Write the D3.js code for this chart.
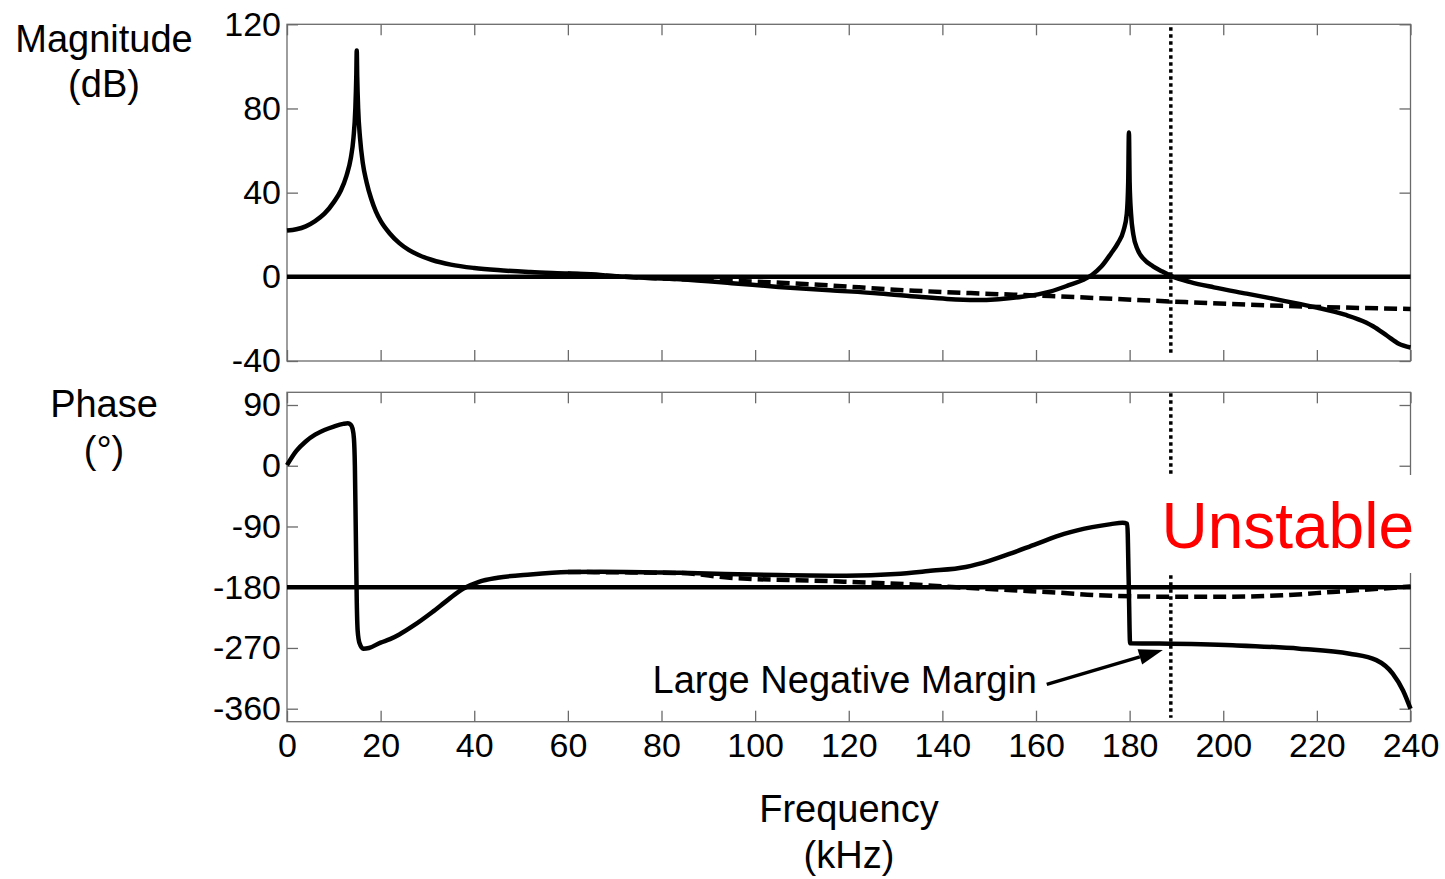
<!DOCTYPE html>
<html>
<head>
<meta charset="utf-8">
<script src="https://cdn.jsdelivr.net/npm/d3@7/dist/d3.min.js"></script>
<style>
body { margin: 0; background: #fff; }
svg text { font-family: "Liberation Sans", Arial, sans-serif; fill: #000; }
</style>
</head>
<body>
<div id="chart"></div>
<script>
// loop gain magnitude (solid) and the reference (dashed), kHz / dB
const magFreq = [0, 2, 4, 6, 8, 10, 11.5, 12.7, 13.6, 14.2, 14.6, 14.8, 14.9, 15.0, 15.2, 15.6, 16.2, 17, 18, 19, 20, 22, 24, 26, 28, 31, 35, 40, 45, 52, 60, 67, 72, 84, 95, 105, 116, 126.6, 135, 141, 147, 152, 157, 163, 167, 170, 172, 174, 176, 177.5, 178.7, 179.4, 179.7, 179.85, 180.0, 180.3, 180.8, 181.7, 183, 185, 187, 189, 193, 198, 205, 212.7, 220, 226, 230.5, 232, 235, 237.5, 240]
const magDb = [22, 22.6, 24, 26.5, 30, 35.5, 41, 48, 56, 66, 80, 95, 107.5, 95, 80, 66, 54, 45, 37, 31, 26.6, 20.5, 16, 12.8, 10.5, 8, 5.8, 4.2, 3.2, 2.3, 1.6, 0.9, 0, -1.2, -3, -4.8, -6.4, -7.9, -9.5, -10.5, -11, -10.6, -9.5, -7, -4, -1.5, 1, 5, 11, 16, 22, 30, 45, 68.6, 45, 30, 20, 13, 8.5, 5, 2.5, 0.3, -2.5, -5, -8, -11.3, -14.6, -18, -21.7, -23.5, -28, -31.8, -33.6]
const magRefFreq = [60, 72, 84, 95, 112, 134, 148, 163, 188.5, 212.7, 240]
const magRefDb = [1.6, 0, -1.1, -1.8, -3.6, -6.6, -7.9, -9.1, -11.7, -13.8, -15.3]

// phase, kHz / degrees
const phaseFreq = [0, 2, 4, 6, 8, 10, 12, 13, 13.6, 14, 14.3, 14.5, 14.7, 14.9, 15.1, 15.5, 16.3, 17.5, 20, 22, 24, 27, 31, 34.5, 37.7, 41, 45, 52, 60, 67, 84, 105, 119.5, 130, 137, 145, 150, 155, 160, 166, 172, 176, 178.5, 179.5, 179.8, 180.1, 186.3, 202, 216.3, 227, 232.7, 236.2, 238.4, 240]
const phaseDeg = [1, 22, 36, 46, 53, 58, 62, 63, 61, 55, 40, 0, -100, -200, -245, -263, -271, -270, -262, -257, -250, -237, -217, -198, -182, -172, -166, -161, -157.5, -157, -158.7, -162, -163, -160.5, -156, -150, -141, -129, -116, -101, -91, -86.5, -84.5, -86, -170, -263, -263.5, -266, -271, -278.5, -288, -308, -333, -360]
const phaseRefFreq = [60, 84, 94.6, 116, 133.7, 140.8, 155, 165, 173.5, 187.8, 202, 212.7, 223.3, 240]
const phaseRefDeg = [-157.5, -159, -166, -171, -176, -179, -184.5, -188, -192, -194, -194, -192, -187, -179]

const freqTicks = [0, 20, 40, 60, 80, 100, 120, 140, 160, 180, 200, 220, 240]
const magTicks = [120, 80, 40, 0, -40]
const phaseTicks = [90, 0, -90, -180, -270, -360]
const crossFreq = 188.8

const width = 1445, height = 879
const svg = d3.select('#chart').append('svg')
    .attr('width', width)
    .attr('height', height)

const x = d3.scaleLinear().domain([0, 240]).range([287, 1410.5])
const yMag = d3.scaleLinear().domain([-40, 120]).range([361, 24.3])
const yPh = d3.scaleLinear().domain([-360, 90]).range([708.7, 405])
const phTop = 392.3, phBottom = 721.7

const frameColor = '#6a6a6a'

function drawFrame(top, bottom, yScale, yTicks, showX) {
    const g = svg.append('g')
    g.append('rect')
        .attr('x', x(0)).attr('y', top)
        .attr('width', x(240) - x(0)).attr('height', bottom - top)
        .attr('fill', 'none').attr('stroke', frameColor).attr('stroke-width', 1.3)

    const axes = [
        [d3.axisLeft(yScale).tickValues(yTicks).tickPadding(6), `translate(${x(0)},0)`, true],
        [d3.axisRight(yScale).tickValues(yTicks), `translate(${x(240)},0)`, false],
        [d3.axisTop(x).tickValues(freqTicks), `translate(0,${top})`, false],
        [d3.axisBottom(x).tickValues(freqTicks).tickPadding(11), `translate(0,${bottom})`, showX]
    ]
    axes.forEach(([ax, tr, labels]) => {
        const a = g.append('g')
            .attr('transform', tr)
            .call(ax.tickSizeInner(-11).tickSizeOuter(0).tickFormat(d => String(d)))
        a.select('.domain').remove()
        a.selectAll('line').attr('stroke', frameColor).attr('stroke-width', 1.3)
        a.selectAll('text')
            .style('font-size', '34px')
            .attr('fill', '#000')
        if (!labels) a.selectAll('text').remove()
    })
    return g
}

drawFrame(yMag(120), yMag(-40), yMag, magTicks, false)
drawFrame(phTop, phBottom, yPh, phaseTicks, true)

// stability boundary at the crossover frequency
svg.append('line')
    .attr('x1', x(crossFreq)).attr('x2', x(crossFreq))
    .attr('y1', yMag(120) + 3).attr('y2', yMag(-40) - 5)
    .attr('stroke', '#000').attr('stroke-width', 3.5).attr('stroke-dasharray', '3.5,3.5')
svg.append('line')
    .attr('x1', x(crossFreq)).attr('x2', x(crossFreq))
    .attr('y1', phTop + 1).attr('y2', phBottom - 4)
    .attr('stroke', '#000').attr('stroke-width', 3.5).attr('stroke-dasharray', '3.5,3.5')

// reference lines 0 dB and -180 deg
svg.append('line')
    .attr('x1', x(0)).attr('x2', x(240))
    .attr('y1', yMag(0)).attr('y2', yMag(0))
    .attr('stroke', '#000').attr('stroke-width', 4.5)
svg.append('line')
    .attr('x1', x(0)).attr('x2', x(240))
    .attr('y1', yPh(-180)).attr('y2', yPh(-180))
    .attr('stroke', '#000').attr('stroke-width', 4.5)

const lineMag = d3.line().x(d => x(d[0])).y(d => yMag(d[1])).curve(d3.curveMonotoneX)
const linePh = d3.line().x(d => x(d[0])).y(d => yPh(d[1])).curve(d3.curveMonotoneX)

svg.append('path')
    .attr('d', lineMag(d3.zip(magRefFreq, magRefDb)))
    .attr('fill', 'none').attr('stroke', '#000').attr('stroke-width', 4.5)
    .attr('stroke-dasharray', '13,6')
svg.append('path')
    .attr('d', lineMag(d3.zip(magFreq, magDb)))
    .attr('fill', 'none').attr('stroke', '#000').attr('stroke-width', 4.5)
    .attr('stroke-linejoin', 'round')

svg.append('path')
    .attr('d', linePh(d3.zip(phaseRefFreq, phaseRefDeg)))
    .attr('fill', 'none').attr('stroke', '#000').attr('stroke-width', 4.5)
    .attr('stroke-dasharray', '13,6')
svg.append('path')
    .attr('d', linePh(d3.zip(phaseFreq, phaseDeg)))
    .attr('fill', 'none').attr('stroke', '#000').attr('stroke-width', 4.5)
    .attr('stroke-linejoin', 'round')

// "Unstable" label with its white backing
svg.append('rect')
    .attr('x', 1160).attr('y', 475).attr('width', 285).attr('height', 98)
    .attr('fill', '#fff')
svg.append('text')
    .attr('x', 1414).attr('y', 548)
    .attr('text-anchor', 'end')
    .style('font-size', '64px')
    .style('fill', '#ff0000')
    .text('Unstable')

// annotation arrow
const ax0 = x(162.3), ay0 = yPh(-324), ax1 = x(187.1), ay1 = yPh(-273)
const ang = Math.atan2(ay1 - ay0, ax1 - ax0)
const headLen = 24, headW = 8
const bx = ax1 - headLen * Math.cos(ang), by = ay1 - headLen * Math.sin(ang)
svg.append('line')
    .attr('x1', ax0).attr('y1', ay0).attr('x2', bx).attr('y2', by)
    .attr('stroke', '#000').attr('stroke-width', 3.5)
svg.append('path')
    .attr('d', `M${ax1},${ay1}L${bx - headW * Math.sin(ang)},${by + headW * Math.cos(ang)}L${bx + headW * Math.sin(ang)},${by - headW * Math.cos(ang)}Z`)
    .attr('fill', '#000')
svg.append('text')
    .attr('x', 1037).attr('y', 693)
    .attr('text-anchor', 'end')
    .style('font-size', '38px')
    .text('Large Negative Margin')

// axis titles
const titles = [
    ['Magnitude', 104, 52], ['(dB)', 104, 97],
    ['Phase', 104, 417], ['(°)', 104, 463],
    ['Frequency', 849, 822], ['(kHz)', 849, 868]
]
svg.selectAll('.title').data(titles).enter()
    .append('text')
    .attr('class', 'title')
    .attr('x', d => d[1]).attr('y', d => d[2])
    .attr('text-anchor', 'middle')
    .style('font-size', '38px')
    .text(d => d[0])
</script>
</body>
</html>
